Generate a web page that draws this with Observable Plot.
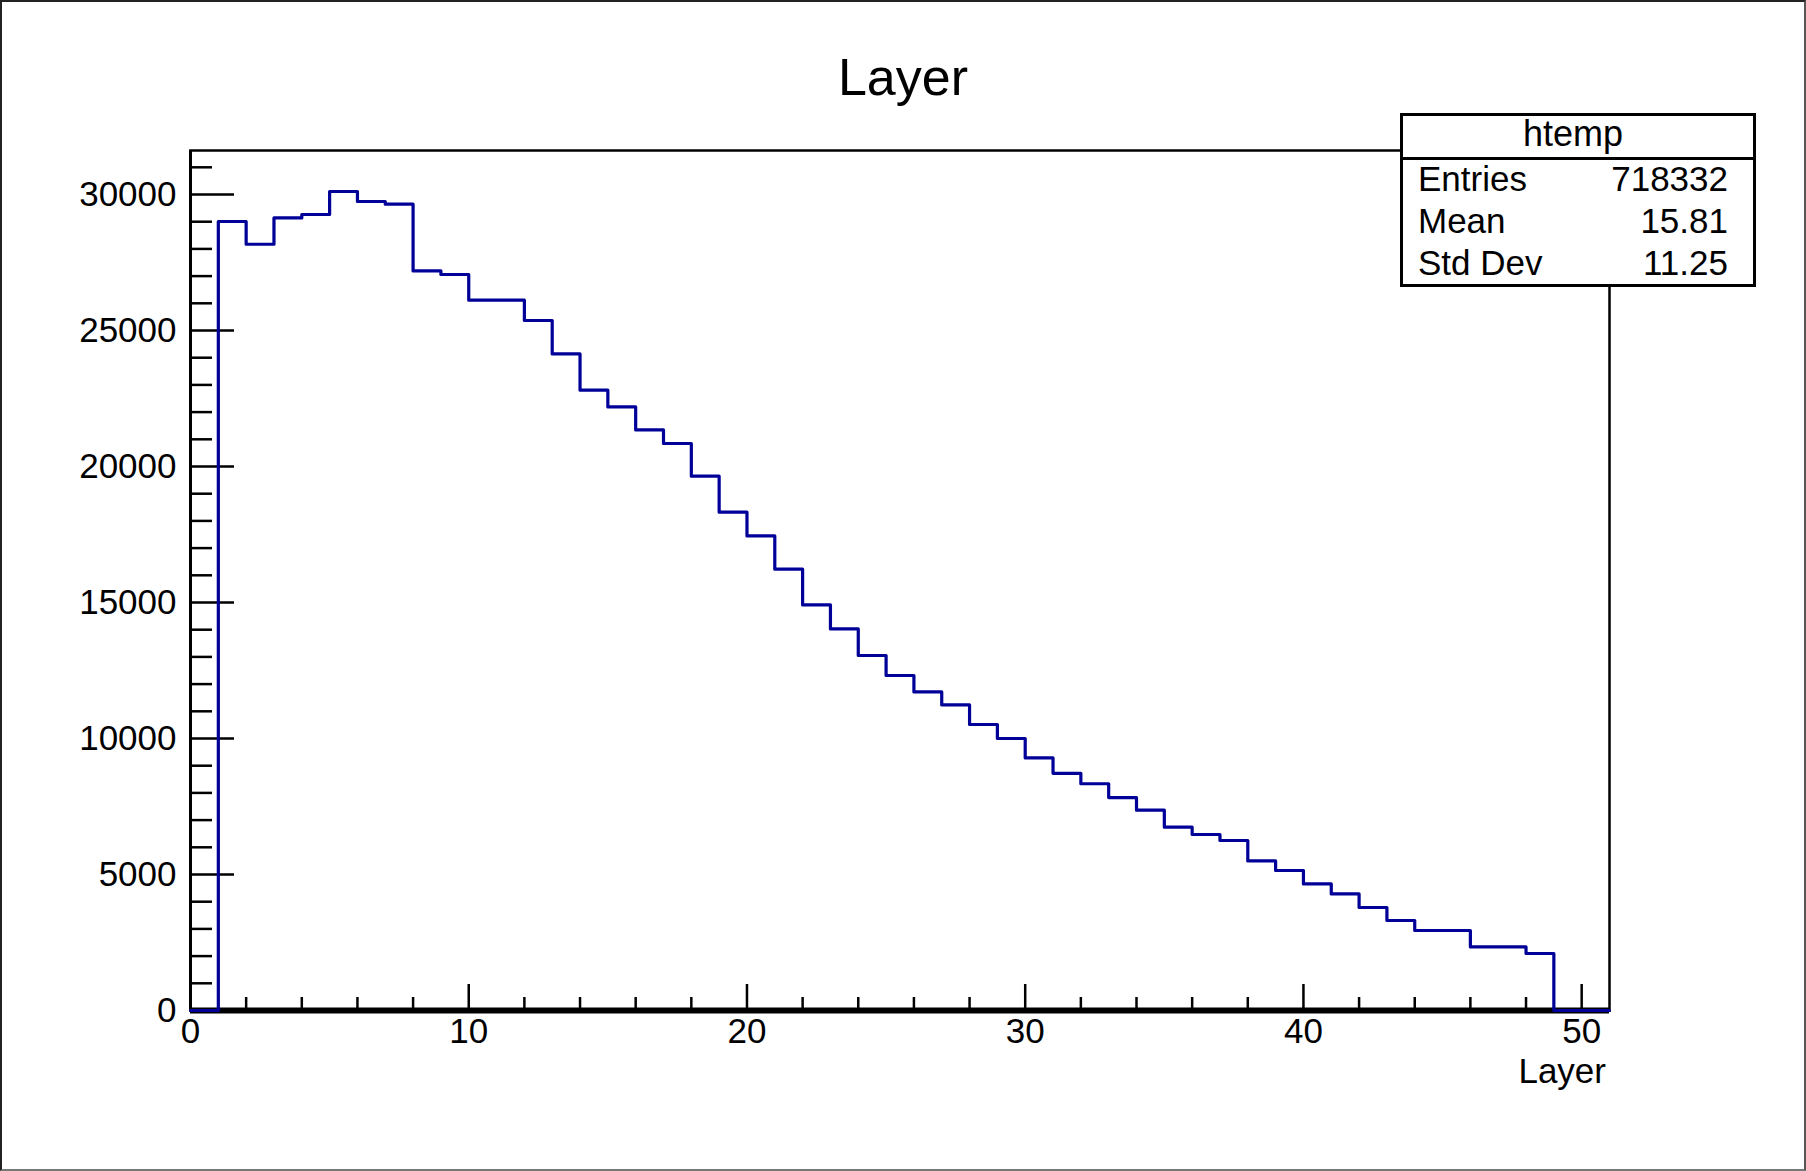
<!DOCTYPE html>
<html>
<head>
<meta charset="utf-8">
<script src="https://cdn.jsdelivr.net/npm/d3@7"></script>
<script src="https://cdn.jsdelivr.net/npm/@observablehq/plot@0.6"></script>
<style>
  html, body { margin: 0; padding: 0; background: #fff; }
  #page { position: relative; width: 1806px; height: 1171px; overflow: hidden; background: #fff;
          font-family: "Liberation Sans", Arial, Helvetica, sans-serif; color: #000; }
  #page svg { position: absolute; left: 0; top: 0; }
  #border { position: absolute; left: 0; top: 0; right: 0; bottom: 0; border: 2px solid #222; border-bottom-color: #777; border-right-color: #555; pointer-events: none; }
  #title { position: absolute; left: 0; width: 1806px; top: 51px; text-align: center; font-size: 52px; line-height: 52px; }
  #xtitle { position: absolute; right: 200px; top: 1053px; font-size: 35px; line-height: 35px; white-space: nowrap; }
  #stats { position: absolute; left: 1400px; top: 113px; width: 356px; height: 174px; border: 3px solid #000; box-sizing: border-box; background: #fff; }
  #statsHead { position: absolute; left: 0; right: 0; top: 0; height: 41px; border-bottom: 3px solid #000; }
  .st { position: absolute; font-size: 35px; line-height: 35px; white-space: nowrap; }
  .lbl { left: 1418px; }
  .val { right: 78px; text-align: right; }
</style>
</head>
<body>
<div id="page">
  <div id="chart"></div>
  <div id="title"></div>
  <div id="xtitle"></div>
  <div id="stats"><div id="statsHead"></div></div>
  <div id="statsText"></div>
  <div id="border"></div>
</div>
<script>
// ---- data ----
const chartTitle = "Layer";
const xLabel = "Layer";
const histName = "htemp";
const statNames = ["Entries", "Mean", "Std Dev"];
const statValues = ["718332", "15.81", "11.25"];

// lower edge of each filled bin (bin width 1)
const binLow = [1, 2, 3, 4, 5, 6, 7, 8, 9, 10, 11, 12, 13, 14, 15, 16, 17, 18, 19, 20,
                21, 22, 23, 24, 25, 26, 27, 28, 29, 30, 31, 32, 33, 34, 35, 36, 37, 38, 39, 40,
                41, 42, 43, 44, 45, 46, 47, 48];
const counts = [29007, 28172, 29140, 29265, 30110, 29743, 29643, 27192, 27059, 26114,
                26114, 25368, 24140, 22805, 22191, 21346, 20845, 19643, 18320, 17449,
                16224, 14912, 14030, 13051, 12316, 11713, 11235, 10515, 10000, 9287,
                8718, 8337, 7829, 7364, 6739, 6471, 6250, 5500, 5147, 4654,
                4287, 3787, 3309, 2941, 2941, 2338, 2338, 2096];
const xRange = [0, 51];
const yRange = [0, 31618];

const xMajor = [0, 10, 20, 30, 40, 50];
const xMinor = [2, 4, 6, 8, 12, 14, 16, 18, 22, 24, 26, 28, 32, 34, 36, 38, 42, 44, 46, 48];
const yMajor = [0, 5000, 10000, 15000, 20000, 25000, 30000];
const yMinor = [1000, 2000, 3000, 4000, 6000, 7000, 8000, 9000, 11000, 12000, 13000, 14000,
                16000, 17000, 18000, 19000, 21000, 22000, 23000, 24000, 26000, 27000, 28000, 29000, 31000];

// ---- build step outline ----
const steps = [{x: xRange[0], y: 0}];
binLow.forEach((b, i) => steps.push({x: b, y: counts[i]}));
steps.push({x: binLow[binLow.length - 1] + 1, y: 0});
steps.push({x: xRange[1], y: 0});

const W = 1806, H = 1171;
const mL = 190, mR = 197, mT = 150, mB = 161;
const fw = W - mL - mR, fh = H - mT - mB;
const lineColor = "#000099";

const plot = Plot.plot({
  width: W, height: H,
  marginLeft: mL, marginRight: mR, marginTop: mT, marginBottom: mB,
  style: {fontFamily: "'Liberation Sans', Arial, sans-serif", fontSize: "35px", color: "#000", background: "transparent"},
  x: {domain: xRange},
  y: {domain: yRange},
  marks: [
    Plot.tickY(yMajor, {y: d => d, stroke: "#000", strokeWidth: 2.5, insetRight: fw - 44}),
    Plot.tickY(yMinor, {y: d => d, stroke: "#000", strokeWidth: 2.5, insetRight: fw - 22}),
    Plot.tickX(xMajor, {x: d => d, stroke: "#000", strokeWidth: 2.5, insetTop: fh - 26}),
    Plot.tickX(xMinor, {x: d => d, stroke: "#000", strokeWidth: 2.5, insetTop: fh - 13}),
    Plot.frame({stroke: "#000", strokeWidth: 2.5}),
    Plot.ruleX([xRange[0]], {stroke: "#000", strokeWidth: 3}),
    Plot.ruleY([0], {stroke: "#000", strokeWidth: 6}),
    Plot.line(steps, {x: "x", y: "y", curve: "step-after", stroke: lineColor, strokeWidth: 3.2}),
    Plot.axisY({ticks: yMajor, tickSize: 0, tickPadding: 14, fontSize: 35, tickFormat: d => String(d), label: null}),
    Plot.axisX({ticks: xMajor, tickSize: 0, tickPadding: 8, fontSize: 35, tickFormat: d => String(d), label: null})
  ]
});
document.getElementById("chart").appendChild(plot);

document.getElementById("title").textContent = chartTitle;
document.getElementById("xtitle").textContent = xLabel;

const st = document.getElementById("statsText");
function addText(cls, text, top, extraStyle) {
  const s = document.createElement("div");
  s.className = "st " + cls;
  s.textContent = text;
  s.style.top = top + "px";
  if (extraStyle) Object.assign(s.style, extraStyle);
  st.appendChild(s);
}
addText("", histName, 116, {left: "1400px", width: "346px", textAlign: "center", fontSize: "36px", lineHeight: "36px"});
const rowTops = [161, 203, 245];
statNames.forEach((n, i) => {
  addText("lbl", n, rowTops[i]);
  addText("val", statValues[i], rowTops[i]);
});
</script>
</body>
</html>
